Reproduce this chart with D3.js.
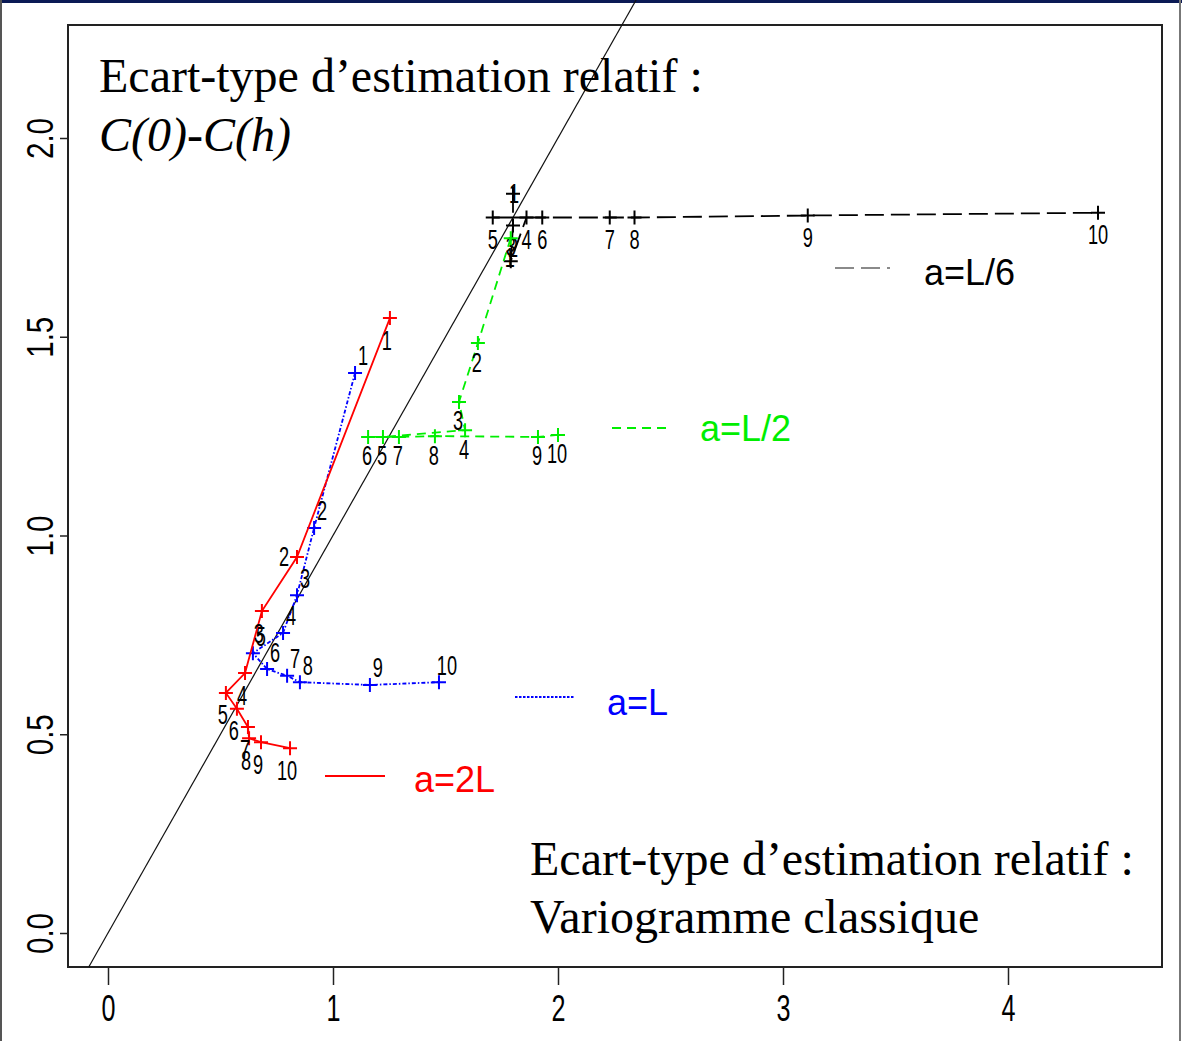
<!DOCTYPE html>
<html>
<head>
<meta charset="utf-8">
<script src="https://cdn.jsdelivr.net/npm/d3@7/dist/d3.min.js"></script>
<style>
  html, body { margin: 0; padding: 0; background: #fff; }
  svg { display: block; }
</style>
</head>
<body>
<svg id="chart" width="1182" height="1041"></svg>
<script>
// ---- data ----------------------------------------------------------------
const xTicks = [0, 1, 2, 3, 4];
const yTicks = [0, 0.5, 1, 1.5, 2];
const yTickLabels = ["0.0", "0.5", "1.0", "1.5", "2.0"];
const pointIds = ["1", "2", "3", "4", "5", "6", "7", "8", "9", "10"];

// a = L/6
const blackX = [1.80, 1.80, 1.79, 1.86, 1.71, 1.93, 2.23, 2.34, 3.11, 4.40];
const blackY = [1.86, 1.78, 1.69, 1.80, 1.80, 1.80, 1.80, 1.80, 1.805, 1.812];
// a = L/2
const greenX = [1.79, 1.644, 1.56, 1.587, 1.222, 1.156, 1.293, 1.453, 1.911, 2.0];
const greenY = [1.748, 1.484, 1.336, 1.265, 1.248, 1.248, 1.248, 1.25, 1.248, 1.253];
// a = L
const blueX = [1.098, 0.916, 0.84, 0.778, 0.644, 0.707, 0.796, 0.853, 1.164, 1.471];
const blueY = [1.409, 1.019, 0.85, 0.755, 0.704, 0.664, 0.647, 0.631, 0.624, 0.631];
// a = 2L
const redX = [1.253, 0.84, 0.684, 0.609, 0.524, 0.573, 0.622, 0.627, 0.68, 0.809];
const redY = [1.547, 0.946, 0.81, 0.654, 0.604, 0.564, 0.518, 0.49, 0.48, 0.465];

const seriesNames = ["a=L/6", "a=L/2", "a=L", "a=2L"];

const titleTop = ["Ecart-type d\u2019estimation relatif :", "C(0)-C(h)"];
const titleBottom = ["Ecart-type d\u2019estimation relatif :", "Variogramme classique"];

// ---- layout ----------------------------------------------------------------
const W = 1182, H = 1041;
const box = { left: 68, top: 25, right: 1162, bottom: 967 };

const x = d3.scaleLinear().domain([0, 4]).range([108, 1008]);
const y = d3.scaleLinear().domain([0, 2]).range([933, 138]);

const series = [
  { name: seriesNames[0], xs: blackX, ys: blackY, color: "#000000", dash: "19,7",
    lab: [0, 22], labFix: { 0: [1, 0], 2: [0, -15] },
    legend: { x1: 835, x2: 890, y: 268, tx: 924, ty: 272, lineColor: "#8a8a8a", textColor: "#000" } },
  { name: seriesNames[1], xs: greenX, ys: greenY, color: "#00ee00", dash: "9,6",
    lab: [-1, 19], labFix: {},
    legend: { x1: 612, x2: 668, y: 428, tx: 700, ty: 428, lineColor: "#00ee00", textColor: "#00ee00" } },
  { name: seriesNames[2], xs: blueX, ys: blueY, color: "#0000ff", dash: "4,2,1.5,2",
    lab: [8, -17], labFix: {},
    legend: { x1: 515, x2: 575, y: 697, tx: 607, ty: 702, lineColor: "#0000ff", textColor: "#0000ff", dash: "2.5,1.5" } },
  { name: seriesNames[3], xs: redX, ys: redY, color: "#ff0000", dash: null,
    lab: [-3, 22], labFix: { 1: [-13, 0] },
    legend: { x1: 325, x2: 385, y: 776, tx: 414, ty: 779, lineColor: "#ff0000", textColor: "#ff0000" } }
];

const svg = d3.select("#chart");

// slide frame
svg.append("rect").attr("x", 0).attr("y", 0).attr("width", W).attr("height", H).attr("fill", "#fff");
svg.append("rect").attr("x", 0).attr("y", 0).attr("width", W).attr("height", 3).attr("fill", "#0b1a55");
svg.append("line").attr("x1", 1).attr("x2", 1).attr("y1", 0).attr("y2", H)
  .attr("stroke", "#555").attr("stroke-width", 2);
svg.append("line").attr("x1", W - 2).attr("x2", W - 2).attr("y1", 0).attr("y2", H)
  .attr("stroke", "#777").attr("stroke-width", 2);

// plot box
svg.append("rect")
  .attr("x", box.left).attr("y", box.top)
  .attr("width", box.right - box.left).attr("height", box.bottom - box.top)
  .attr("fill", "none").attr("stroke", "#222").attr("stroke-width", 2);

// axes
const tickFont = "'Liberation Sans', Arial, sans-serif";
const xAxis = svg.append("g")
  .attr("transform", `translate(0,${box.bottom})`)
  .call(d3.axisBottom(x).tickValues(xTicks).tickSize(18).tickFormat(d3.format("d")));
xAxis.select(".domain").remove();
xAxis.selectAll(".tick line").attr("stroke", "#222").attr("stroke-width", 1.5);
xAxis.selectAll(".tick text")
  .attr("y", 0).attr("dy", 0)
  .attr("transform", "translate(0,54) scale(0.68,1)")
  .attr("font-family", tickFont).attr("font-size", 37).attr("fill", "#000");

const yAxis = svg.append("g")
  .attr("transform", `translate(${box.left},0)`)
  .call(d3.axisLeft(y).tickValues(yTicks).tickSize(8).tickFormat((d, i) => yTickLabels[i]));
yAxis.select(".domain").remove();
yAxis.selectAll(".tick line").attr("stroke", "#222").attr("stroke-width", 1.5);
yAxis.selectAll(".tick text")
  .attr("x", 0).attr("dy", 0)
  .attr("text-anchor", "middle")
  .attr("transform", "translate(-15,0) rotate(-90) scale(0.8,1)")
  .attr("font-family", tickFont).attr("font-size", 37).attr("fill", "#000");

// identity line y = x, running from the bottom of the box to the top edge
const idLo = y.invert(box.bottom), idHi = y.invert(0);
svg.append("line")
  .attr("x1", x(idLo)).attr("y1", y(idLo))
  .attr("x2", x(idHi)).attr("y2", y(idHi))
  .attr("stroke", "#111").attr("stroke-width", 1.2);

// series
const lineGen = d3.line().x(d => x(d[0])).y(d => y(d[1]));
const labelFont = "'Liberation Sans', Arial, sans-serif";

series.forEach(s => {
  const pts = s.xs.map((v, i) => [v, s.ys[i]]);
  const g = svg.append("g");
  g.append("path")
    .attr("d", lineGen(pts))
    .attr("fill", "none")
    .attr("stroke", s.color)
    .attr("stroke-width", 1.8)
    .attr("stroke-dasharray", s.dash);

  const m = 7;
  g.selectAll("path.mk").data(pts).join("path")
    .attr("class", "mk")
    .attr("d", d => {
      const px = x(d[0]), py = y(d[1]);
      return `M${px - m},${py}H${px + m}M${px},${py - m}V${py + m}`;
    })
    .attr("stroke", s.color).attr("stroke-width", 2).attr("fill", "none");

  g.selectAll("text.pid").data(pts).join("text")
    .attr("class", "pid")
    .attr("transform", (d, i) => {
      const off = s.labFix[i] || s.lab;
      return `translate(${x(d[0]) + off[0]},${y(d[1]) + off[1]}) scale(0.65,1)`;
    })
    .attr("text-anchor", "middle")
    .attr("dominant-baseline", "central")
    .attr("font-family", labelFont)
    .attr("font-size", 28)
    .attr("fill", "#000")
    .text((d, i) => pointIds[i]);

  // legend entry
  const L = s.legend;
  svg.append("line")
    .attr("x1", L.x1).attr("x2", L.x2).attr("y1", L.y).attr("y2", L.y)
    .attr("stroke", L.lineColor).attr("stroke-width", 2)
    .attr("stroke-dasharray", L.dash || s.dash);
  svg.append("text")
    .attr("x", L.tx).attr("y", L.ty)
    .attr("dominant-baseline", "central")
    .attr("font-family", labelFont).attr("font-size", 36)
    .attr("fill", L.textColor)
    .text(s.name);
});

// annotations
const serif = "'Liberation Serif', 'Times New Roman', serif";
svg.append("text").attr("x", 99).attr("y", 92)
  .attr("font-family", serif).attr("font-size", 48).attr("fill", "#000").text(titleTop[0]);
svg.append("text").attr("x", 99).attr("y", 151)
  .attr("font-family", serif).attr("font-size", 48).attr("font-style", "italic")
  .attr("fill", "#000").text(titleTop[1]);
svg.append("text").attr("x", 530).attr("y", 875)
  .attr("font-family", serif).attr("font-size", 48).attr("fill", "#000").text(titleBottom[0]);
svg.append("text").attr("x", 530).attr("y", 933)
  .attr("font-family", serif).attr("font-size", 48).attr("fill", "#000").text(titleBottom[1]);
</script>
</body>
</html>
